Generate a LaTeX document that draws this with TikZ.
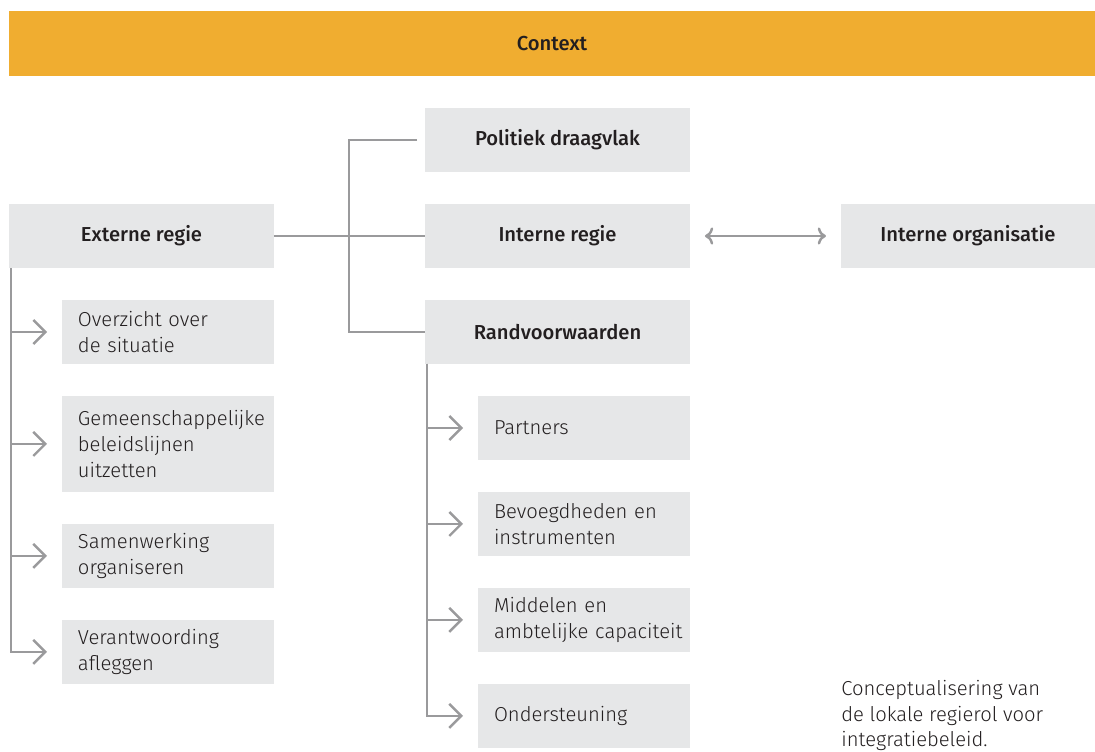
\documentclass[tikz,border=0pt]{standalone}
\usepackage{fontspec}
\setmainfont{Fira Sans}[UprightFont=* Light, BoldFont=* Medium]
\usepackage{tikz}
\usetikzlibrary{arrows.meta}
\usetikzlibrary{positioning}
\definecolor{barorange}{HTML}{F0AD30}
\definecolor{boxgray}{HTML}{E6E7E8}
\definecolor{linegray}{HTML}{9A9A9C}
\definecolor{textdark}{HTML}{231F20}
\tikzset{
    mainbox/.style={fill=boxgray, text=textdark, font=\fontsize{11.5}{14.8}\selectfont\bfseries,
        minimum width=5.3cm, minimum height=1.28cm, inner sep=0pt, outer sep=0pt},
    subbox/.style={fill=boxgray, text=textdark, font=\fontsize{11.5}{14.8}\selectfont,
        minimum width=4.24cm, minimum height=1.28cm, text width=3.6cm, align=left,
        inner xsep=0.32cm, inner ysep=0pt, outer sep=0pt},
    conn/.style={draw=linegray, line width=1.4pt, -{Straight Barb[length=0.24cm, width=0.48cm, line width=1.4pt]}},
    plain/.style={draw=linegray, line width=1.4pt}
}
\begin{document}
\begin{tikzpicture}[x=0.02cm, y=-0.02cm, node distance=0.64cm]
    \useasboundingbox (0,0) rectangle (1095,751);

    \node[fill=barorange, text=textdark, font=\fontsize{11.5}{14.8}\selectfont\bfseries,
        minimum width=21.72cm, minimum height=1.3cm, inner sep=0pt] (context) at (552,43.5) {Context};

    \node[mainbox] (extern) at (141.5,236) {Externe regie};
    \node[mainbox] (intern) at (557.5,236) {Interne regie};
    \node[mainbox, above=of intern] (politiek) {Politiek draagvlak};
    \node[mainbox, below=of intern] (rand) {Randvoorwaarden};
    \node[mainbox, minimum width=5.08cm, right=3.02cm of intern] (organisatie) {Interne organisatie};

    % externe regie
    \node[subbox, anchor=north west] (overzicht) at (62,300) {Overzicht over\\de situatie};
    \node[subbox, minimum height=1.92cm, below=of overzicht] (beleid) {Gemeenschappelijke\\beleidslijnen\\uitzetten};
    \node[subbox, below=of beleid] (samenwerking) {Samenwerking\\organiseren};
    \node[subbox, below=of samenwerking] (verantwoording) {Verantwoording\\afleggen};

    % randvoorwaarden
    \node[subbox, anchor=north west] (partners) at (478,396) {Partners};
    \node[subbox, below=of partners] (bevoegd) {Bevoegdheden en\\instrumenten};
    \node[subbox, below=of bevoegd] (middelen) {Middelen en\\\mbox{ambtelijke capaciteit}};
    \node[subbox, below=of middelen] (steun) {Ondersteuning};

    \node[text=textdark, font=\fontsize{11.5}{14.6}\selectfont, align=left, anchor=north west, inner sep=0pt]
        (caption) at (841,680) {Conceptualisering van\\de lokale regierol voor\\integratiebeleid.};

    \coordinate (fork) at (349,236);
    \draw[plain] (extern) -- (intern);
    \draw[plain, shorten <=0.16cm] (politiek.west) -| (fork) |- (rand.west);
    \draw[conn, <->, shorten <=0.3cm, shorten >=0.3cm] (intern) -- (organisatie);

    \draw[conn, shorten >=0.3cm] ([xshift=1]extern.south west) |- (overzicht.west);
    \draw[conn, shorten >=0.3cm] ([xshift=1]extern.south west) |- (beleid.west);
    \draw[conn, shorten >=0.3cm] ([xshift=1]extern.south west) |- (samenwerking.west);
    \draw[conn, shorten >=0.3cm] ([xshift=1]extern.south west) |- (verantwoording.west);

    \draw[conn, shorten >=0.3cm] ([xshift=1]rand.south west) |- (partners.west);
    \draw[conn, shorten >=0.3cm] ([xshift=1]rand.south west) |- (bevoegd.west);
    \draw[conn, shorten >=0.3cm] ([xshift=1]rand.south west) |- (middelen.west);
    \draw[conn, shorten >=0.3cm] ([xshift=1]rand.south west) |- (steun.west);
\end{tikzpicture}
\end{document}
